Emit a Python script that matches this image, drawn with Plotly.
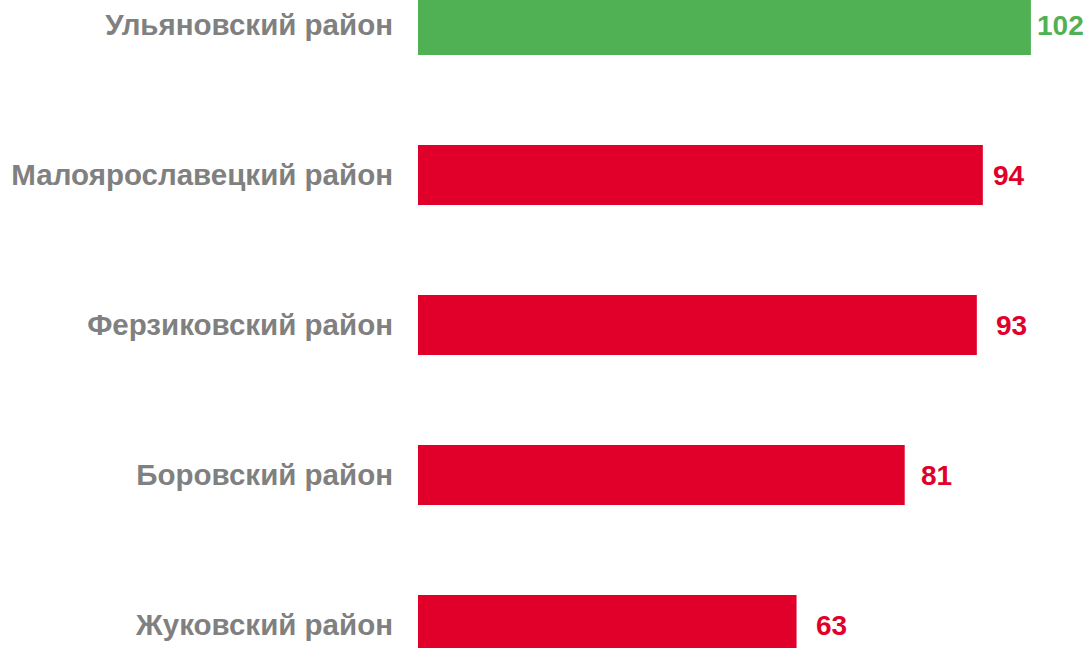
import plotly.graph_objects as go

categories = ["Ульяновский район", "Малоярославецкий район", "Ферзиковский район",
              "Боровский район", "Жуковский район"]
values = [102, 94, 93, 81, 63]
bar_colors = ["#4FB153", "#E1002A", "#E1002A", "#E1002A", "#E1002A"]

# style: pixel gap between bar end and its value label
label_gaps = [4, 8, 17, 14, 17]

FONT = "Liberation Sans, Arial, sans-serif"

fig = go.Figure()
fig.add_trace(go.Bar(
    x=values, y=categories, orientation="h",
    marker=dict(color=bar_colors, line=dict(width=0)),
    width=0.4, hoverinfo="skip",
))

for cat, val, col, gap in zip(categories, values, bar_colors, label_gaps):
    fig.add_annotation(
        x=val, y=cat, xref="x", yref="y", text=str(val),
        showarrow=False, xanchor="left", yanchor="middle", xshift=gap,
        font=dict(family=FONT, size=28, color=col, weight="bold"),
    )

fig.update_layout(
    width=1091, height=648,
    margin=dict(l=418, r=0, t=0, b=0),
    paper_bgcolor="white", plot_bgcolor="white",
    showlegend=False,
    xaxis=dict(range=[0, 112], visible=False, fixedrange=True),
    yaxis=dict(
        type="category", categoryorder="array", categoryarray=categories,
        range=[4.1533, -0.1667], showgrid=False, zeroline=False, showline=False,
        ticks="", ticklabelstandoff=24, fixedrange=True,
        tickfont=dict(family=FONT, size=29.5, color="#808080", weight="bold"),
    ),
)

fig.write_html("out.html", config={"displayModeBar": False},
               post_script="document.body.style.margin='0';document.body.style.overflow='hidden';")
